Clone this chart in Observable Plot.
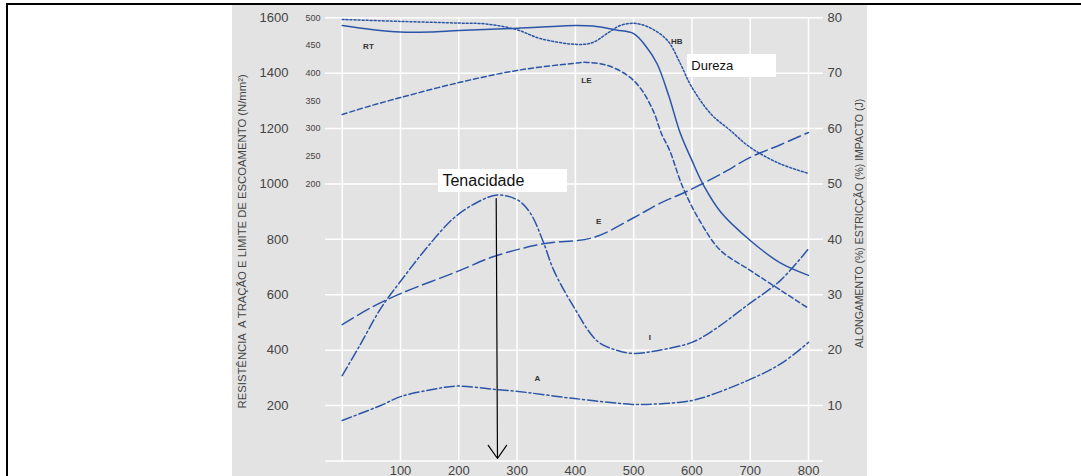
<!DOCTYPE html>
<html><head><meta charset="utf-8">
<script src="https://cdn.jsdelivr.net/npm/d3@7"></script>
<script src="https://cdn.jsdelivr.net/npm/@observablehq/plot@0.6"></script>
<style>
html,body{margin:0;padding:0;background:#fff;overflow:hidden;width:1081px;height:476px;}
#chart{position:absolute;left:232px;top:5px;}
#frame{position:absolute;left:6px;top:3px;width:1200px;height:600px;border-top:2.5px solid #000;border-left:2.5px solid #000;}
</style></head>
<body><div id="chart"></div><div id="frame"></div>
<script>
// Temperature (°C) and values
const rtT = [0,50,100,150,200,300,400,430,470,500,520,540,560,580,600,620,650,700,750,800];
const rtV = [1572,1558,1549,1549,1554,1562,1572,1570,1556,1543,1500,1435,1320,1183,1085,995,897,796,717,670];

const hbT = [0,100,200,245,298,340,403,430,457,477,500,527,558,580,598,632,666,700,750,800];
const hbV = [1594,1587,1581,1578,1558,1525,1504,1511,1547,1572,1580,1565,1518,1435,1356,1254,1193,1132,1074,1038];

const leT = [0,50,100,200,300,395,420,455,490,512,534,548,562,584,615,649,700,734,800];
const leV = [1251,1283,1312,1366,1410,1435,1439,1428,1391,1345,1262,1180,1120,990,861,760,688,641,551];

// percent / J series (right axis)
const eT = [0,50,100,200,260,345,430,500,545,590,650,700,750,800];
const eV = [24.6,27.7,30.2,34.3,36.9,39.2,40.3,43.9,46.5,48.6,51.8,54.8,57.0,59.3];

const iT = [0,30,66,105,146,191,232,266,301,323,344,363,395,437,470,500,540,600,637,695,752,800];
const iV = [15.4,20.8,27.5,33.1,38.6,43.8,46.7,48.0,47.1,44.7,39.8,34.4,28.2,21.7,20.0,19.4,19.9,21.4,23.6,28.1,32.6,38.3];

const aT = [0,66,100,150,197,263,297,395,497,523,580,615,695,752,800];
const aV = [7.3,10.0,11.6,12.8,13.5,12.9,12.6,11.3,10.2,10.2,10.6,11.3,14.5,17.5,21.4];

// ticks
const xTicks = [100,200,300,400,500,600,700,800];
const xGrid = [0,100,200,300,400,500,600,700,800];
const leftTicks = [200,400,600,800,1000,1200,1400,1600];
const hbTicks = [200,250,300,350,400,450,500];
const rightTicks = [10,20,30,40,50,60,70,80];

const leftTitle = "RESISTÊNCIA  A TRAÇÃO E LIMITE DE ESCOAMENTO (N/mm²)";
const rightTitle = "ALONGAMENTO (%) ESTRICÇÃO (%) IMPACTO (J)";

const curveLabels = [
  {x:45, y:1498, t:"RT"},
  {x:574, y:1516, t:"HB"},
  {x:419, y:1374, t:"LE"},
  {x:440, y:43.2*20, t:"E"},
  {x:528, y:22.3*20, t:"I"},
  {x:335, y:14.9*20, t:"A"}
];
const boxes = [
  {x1:165.2, x2:386.5, y1:969.2, y2:1052.2, tx:172, ty:1010, t:"Tenacidade", fs:16},
  {x1:592.4, x2:745.1, y1:1384.4, y2:1467.5, tx:599, ty:1426, t:"Dureza", fs:13}
];
const arrowData = [{x1:264.2, y1:947.5, x2:266.4, y2:8.7}];

const toRows = (T, V, k=1) => T.map((t,i)=>({t, v:V[i]*k}));
const blue = "#2b55a8";
const line = (rows, dash) => Plot.line(rows, {x:"t", y:"v", stroke: blue, strokeWidth:1.5, strokeDasharray: dash, curve:"catmull-rom"});

const chart = Plot.plot({
  width: 635, height: 471,
  marginLeft: 93, marginRight: 44, marginTop: 12.3, marginBottom: 15.6,
  style: {background:"#e3e3e3", fontFamily:"'Liberation Sans', Arial, sans-serif", color:"#444", overflow:"visible"},
  x: {domain:[-28.65, 825.7]},
  y: {domain:[0,1600]},
  marks: [
    Plot.ruleY([0, ...leftTicks], {stroke:"#fff", strokeWidth:1.5}),
    Plot.ruleX(xGrid, {y1:0, y2:1600, stroke:"#fff", strokeWidth:1.5}),
    Plot.axisX(xTicks, {tickSize:0, tickPadding:5, fontSize:13, label:null, fill:"#444", tickFormat: d => String(d)}),
    Plot.axisY(leftTicks, {tickSize:0, tickPadding:37, fontSize:13, label:null, fill:"#444", tickFormat: d => String(d)}),
    Plot.axisY(hbTicks.map(h=>1000+(h-200)*2), {tickSize:0, tickPadding:5, fontSize:9, label:null, fill:"#444", tickFormat: d => String(200 + (d-1000)/2)}),
    Plot.axisY(rightTicks.map(p=>p*20), {anchor:"right", tickSize:0, tickPadding:4, fontSize:13, label:null, fill:"#444", tickFormat: d => String(d/20)}),
    Plot.text([leftTitle], {frameAnchor:"left", textAnchor:"middle", dx:-83, dy:2, rotate:-90, fontSize:11.3, fill:"#444"}),
    Plot.text([rightTitle], {frameAnchor:"right", textAnchor:"middle", dx:36, dy:-16, rotate:-90, fontSize:10.5, fill:"#444"}),
    line(toRows(rtT, rtV), null),
    line(toRows(hbT, hbV), "2,2"),
    line(toRows(leT, leV), "5,3"),
    line(toRows(eT, eV, 20), "13,5"),
    line(toRows(iT, iV, 20), "10,3,2,3"),
    line(toRows(aT, aV, 20), "10,3,2,3"),
    Plot.text(curveLabels, {x:"x", y:"y", text:"t", fontSize:8, fontWeight:"bold", fill:"#333"}),
    Plot.rect(boxes, {x1:"x1", x2:"x2", y1:"y1", y2:"y2", fill:"#fff"}),
    Plot.text(boxes, {x:"tx", y:"ty", text:"t", textAnchor:"start", fontSize:d=>d.fs, fill:"#111"}),
    Plot.arrow(arrowData, {x1:"x1", y1:"y1", x2:"x2", y2:"y2", stroke:"#000", strokeWidth:1.2, headLength:20, headAngle:70})
  ]
});
document.getElementById("chart").appendChild(chart);
</script>
</body></html>
